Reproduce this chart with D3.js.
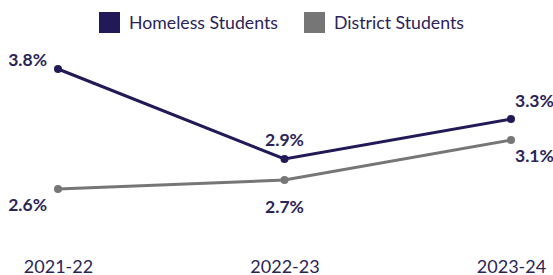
<!DOCTYPE html>
<html>
<head>
<meta charset="utf-8">
<script src="https://cdn.jsdelivr.net/npm/d3@7"></script>
<style>
  body { margin: 0; background: #fff; }
  svg { font-family: Lato, "Open Sans", sans-serif; }
</style>
</head>
<body>
<svg width="553" height="275"></svg>
<script>
const years = ['2021-22', '2022-23', '2023-24']
const homeless = [3.8, 2.9, 3.3]
const district = [2.6, 2.69, 3.09]
const seriesNames = ['Homeless Students', 'District Students']
const seriesColors = ['#211a57', '#767676']

const svg = d3.select('svg')
const width = +svg.attr('width')
const height = +svg.attr('height')
const textColor = '#2b2458'

const x = d3.scalePoint()
    .domain(years)
    .range([58, 511])

const y = d3.scaleLinear()
    .domain([2.6, 3.8])
    .range([189, 69])

// legend
const legend = svg.append('g')
const legendX = [99, 304]
seriesNames.forEach((name, i) => {
  const g = legend.append('g').attr('transform', `translate(${legendX[i]},12)`)
  g.append('rect')
      .attr('width', 21)
      .attr('height', 21)
      .style('fill', seriesColors[i])
  g.append('text')
      .attr('x', 30)
      .attr('y', 16.5)
      .style('font-size', '17.7px')
      .style('fill', textColor)
      .text(name)
})

// x axis (no line, only labels)
const xAxis = svg.append('g')
    .attr('transform', `translate(0,${height - 2})`)
    .call(d3.axisBottom(x).tickSize(0).tickPadding(0))
xAxis.select('.domain').remove()
xAxis.selectAll('text')
    .attr('dy', 0)
    .attr('y', 0)
    .style('font-family', 'Lato, sans-serif')
    .style('font-size', '18px')
    .style('fill', textColor)

const line = d3.line()
    .x((d, i) => x(years[i]))
    .y(d => y(d))

const series = [homeless, district]
series.forEach((vals, s) => {
  svg.append('path')
      .datum(vals)
      .attr('d', line)
      .style('fill', 'none')
      .style('stroke', seriesColors[s])
      .style('stroke-width', 3)
  svg.selectAll(null)
      .data(vals)
      .enter()
      .append('circle')
      .attr('cx', (d, i) => x(years[i]))
      .attr('cy', d => y(d))
      .attr('r', 4)
      .style('fill', seriesColors[s])
})

// value labels
const anchors = ['end', 'middle', 'start']
const dxs = [-11, 0, 4]
const labelOffsets = [[-3, -13, -12], [22, 33, 22]]
series.forEach((vals, s) => {
  svg.selectAll(null)
      .data(vals)
      .enter()
      .append('text')
      .attr('x', (d, i) => x(years[i]) + dxs[i])
      .attr('y', (d, i) => y(d) + labelOffsets[s][i])
      .attr('text-anchor', (d, i) => anchors[i])
      .style('font-size', '17.5px')
      .style('font-weight', 'bold')
      .style('fill', textColor)
      .text(d => d3.format('.1f')(d) + '%')
})
</script>
</body>
</html>
